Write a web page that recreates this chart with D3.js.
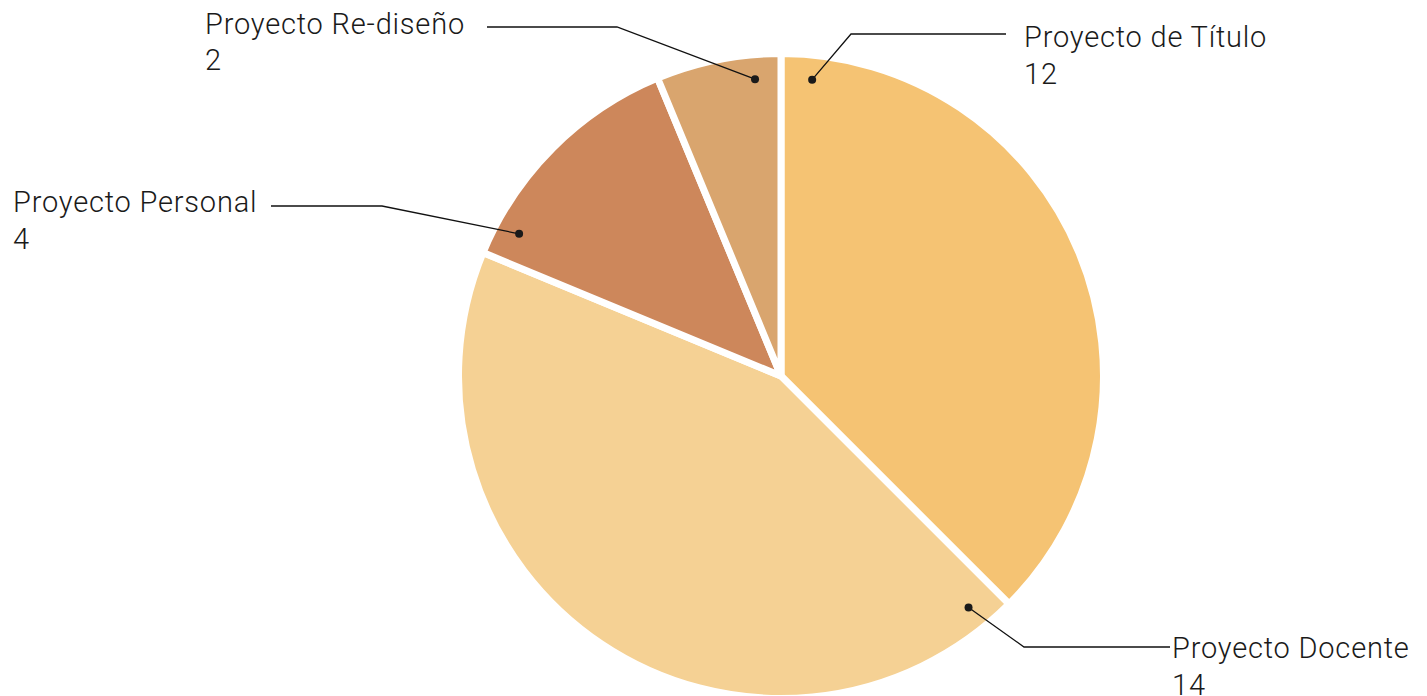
<!DOCTYPE html>
<html><head><meta charset="utf-8">
<script src="https://cdn.jsdelivr.net/npm/d3@7/dist/d3.min.js"></script>
<style>
html,body{margin:0;padding:0;background:#fff;}
text{font-family:Roboto,"Noto Sans",sans-serif;font-weight:300;fill:#1a1a1a;}
</style></head>
<body>
<svg id="chart" width="1427" height="696"></svg>
<script>
const categories = ["Proyecto de Título", "Proyecto Docente", "Proyecto Personal", "Proyecto Re-diseño"];
const values = [12, 14, 4, 2];
const colors = ["#F5C373", "#F5D194", "#CD875B", "#D9A56E"];
// label layout: elbow point of leader line and text anchor
const elbows = [[851, 34], [1024, 647], [382, 206], [617, 27]];
const labelPos = [[1024, 47], [1172, 658], [13, 212], [205, 33.5]];
const lineEnds = [1006, 1170, 271, 487];
const dotOffsetDeg = [6, 6, 6, -5]; // from slice start (+) or end (-)

const svg = d3.select("#chart");
const cx = 781, cy = 376, R = 322.5;
const g = svg.append("g").attr("transform", `translate(${cx},${cy})`);

const pie = d3.pie().sort(null).value(d => d)(values);
const arc = d3.arc().innerRadius(0).outerRadius(R);

g.selectAll("path.slice").data(pie).enter().append("path")
  .attr("class", "slice")
  .attr("d", arc)
  .attr("fill", (d, i) => colors[i])
  .attr("stroke", "#fff")
  .attr("stroke-width", 7)
  .attr("stroke-linejoin", "miter");

const dotR = 298;
pie.forEach((d, i) => {
  const off = dotOffsetDeg[i] * Math.PI / 180;
  const a = off >= 0 ? d.startAngle + off : d.endAngle + off;
  const dx = cx + dotR * Math.sin(a), dy = cy - dotR * Math.cos(a);
  const [ex, ey] = elbows[i];
  svg.append("polyline")
    .attr("points", `${dx},${dy} ${ex},${ey} ${lineEnds[i]},${ey}`)
    .attr("fill", "none").attr("stroke", "#111").attr("stroke-width", 1.3);
  svg.append("circle").attr("cx", dx).attr("cy", dy).attr("r", 4).attr("fill", "#1a1a1a");
  const t = svg.append("text").attr("x", labelPos[i][0]).attr("y", labelPos[i][1])
    .attr("font-size", 29).attr("letter-spacing", 0.8);
  t.append("tspan").attr("x", labelPos[i][0]).text(categories[i]);
  t.append("tspan").attr("x", labelPos[i][0]).attr("dy", 36.5).text(values[i]);
});
</script>
</body></html>
